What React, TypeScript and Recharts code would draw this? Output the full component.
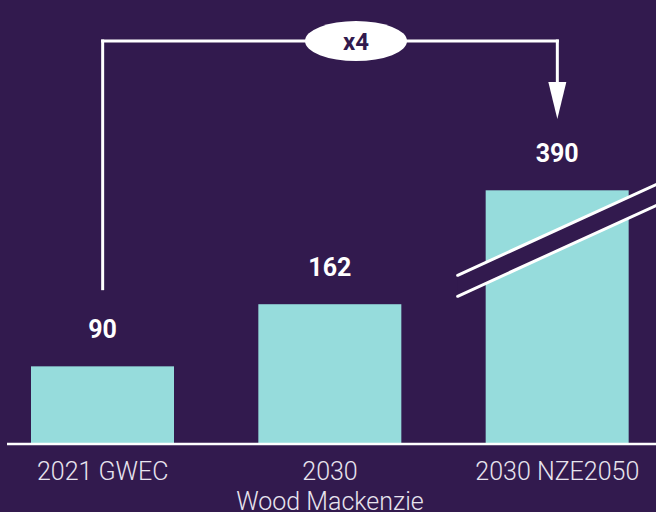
import React from 'react';
import { BarChart, Bar, XAxis, YAxis, LabelList, ReferenceLine, ReferenceDot } from 'recharts';

// Category labels (second has a two-line label)
const categories = ['2021 GWEC', '2030\nWood Mackenzie', '2030 NZE2050'];
// Actual values shown as labels
const values = [90, 162, 390];
// Heights drawn on the (broken) axis: the last bar is truncated
const plottedHeights = [90, 162, 294];
const brokenBars = [false, false, true];
const multiplierLabel = 'x4';

// Annotation levels (data units on the hidden y-axis)
const arrowStartLevel = 180;
const arrowTopLevel = 467;
const arrowHeadLevel = 419.5;

const BG = '#321A4E';
const BAR = '#96DCDC';
const WHITE = '#FFFFFF';

const data = categories.map((c, i) => ({
  name: c,
  value: values[i],
  plotted: plottedHeights[i],
  broken: brokenBars[i],
}));

const Tick = (props: any) => {
  const { x, y, payload } = props;
  const lines = String(payload.value).split('\n');
  return (
    <text x={x} y={y} textAnchor="middle" fill="#E8E4EE" fontFamily="Roboto" fontWeight={300} fontSize={25}>
      {lines.map((l, i) => (
        <tspan key={i} x={x} dy={i === 0 ? 36 : 30}>
          {l}
        </tspan>
      ))}
    </text>
  );
};

const BarShape = (props: any) => {
  const { x, y, width, height } = props;
  const broken = props.broken ?? props.payload?.broken;
  return (
    <g>
      <rect x={x} y={y} width={width} height={height} fill={BAR} />
      {broken && (
        <g>
          <polygon
            points={`${x - 28},${y + 85} ${x + width + 30},${y - 7} ${x + width + 30},${y + 14} ${x - 28},${y + 106}`}
            fill={BG}
          />
          <line x1={x - 28} y1={y + 85} x2={x + width + 30} y2={y - 7} stroke={WHITE} strokeWidth={3} strokeLinecap="round" />
          <line x1={x - 28} y1={y + 106} x2={x + width + 30} y2={y + 14} stroke={WHITE} strokeWidth={3} strokeLinecap="round" />
        </g>
      )}
    </g>
  );
};

const ValueLabel = (p: any) => (
  <text
    x={p.x + p.width / 2}
    y={p.y - 28}
    textAnchor="middle"
    fill={WHITE}
    fontFamily="Roboto"
    fontWeight={700}
    fontSize={25}
  >
    {p.value}
  </text>
);

const ArrowHead = (p: any) => {
  const { cx, cy } = p;
  return <polygon points={`${cx - 9},${cy} ${cx + 9},${cy} ${cx},${cy + 37}`} fill={WHITE} />;
};

const Bubble = (p: any) => {
  const { cx, cy } = p;
  const ex = cx + 26;
  return (
    <g>
      <ellipse cx={ex} cy={cy} rx={51} ry={20} fill={WHITE} />
      <text x={ex} y={cy + 9} textAnchor="middle" fill={BG} fontFamily="Roboto" fontWeight={700} fontSize={24}>
        {multiplierLabel}
      </text>
    </g>
  );
};

export default function App() {
  return (
    <div style={{ position: 'absolute', left: 0, top: 0, width: 656, height: 512, overflow: 'hidden', background: BG }}>
      <div style={{ position: 'absolute', left: -11, top: 0 }}>
        <BarChart width={682} height={512} data={data} margin={{ top: 16, right: 0, bottom: 0, left: 18 }} barCategoryGap={0}>
          <YAxis hide domain={[0, 496]} type="number" />
          <XAxis
            dataKey="name"
            height={68}
            tick={<Tick />}
            tickLine={false}
            tickSize={0}
            tickMargin={0}
            interval={0}
            padding={{ left: -18, right: 0 }}
            axisLine={{ stroke: WHITE, strokeWidth: 2.5 }}
          />
          <Bar dataKey="plotted" barSize={143} shape={<BarShape />} isAnimationActive={false}>
            <LabelList dataKey="value" content={<ValueLabel />} />
          </Bar>
          <ReferenceLine
            segment={[{ x: categories[0], y: arrowStartLevel }, { x: categories[0], y: arrowTopLevel }]}
            stroke={WHITE}
            strokeWidth={3}
            strokeLinecap="square"
          />
          <ReferenceLine
            segment={[{ x: categories[0], y: arrowTopLevel }, { x: categories[2], y: arrowTopLevel }]}
            stroke={WHITE}
            strokeWidth={3}
            strokeLinecap="square"
          />
          <ReferenceLine
            segment={[{ x: categories[2], y: arrowTopLevel }, { x: categories[2], y: arrowHeadLevel }]}
            stroke={WHITE}
            strokeWidth={3}
            strokeLinecap="square"
          />
          <ReferenceDot x={categories[2]} y={arrowHeadLevel} shape={<ArrowHead />} />
          <ReferenceDot x={categories[1]} y={arrowTopLevel} shape={<Bubble />} />
        </BarChart>
      </div>
    </div>
  );
}
